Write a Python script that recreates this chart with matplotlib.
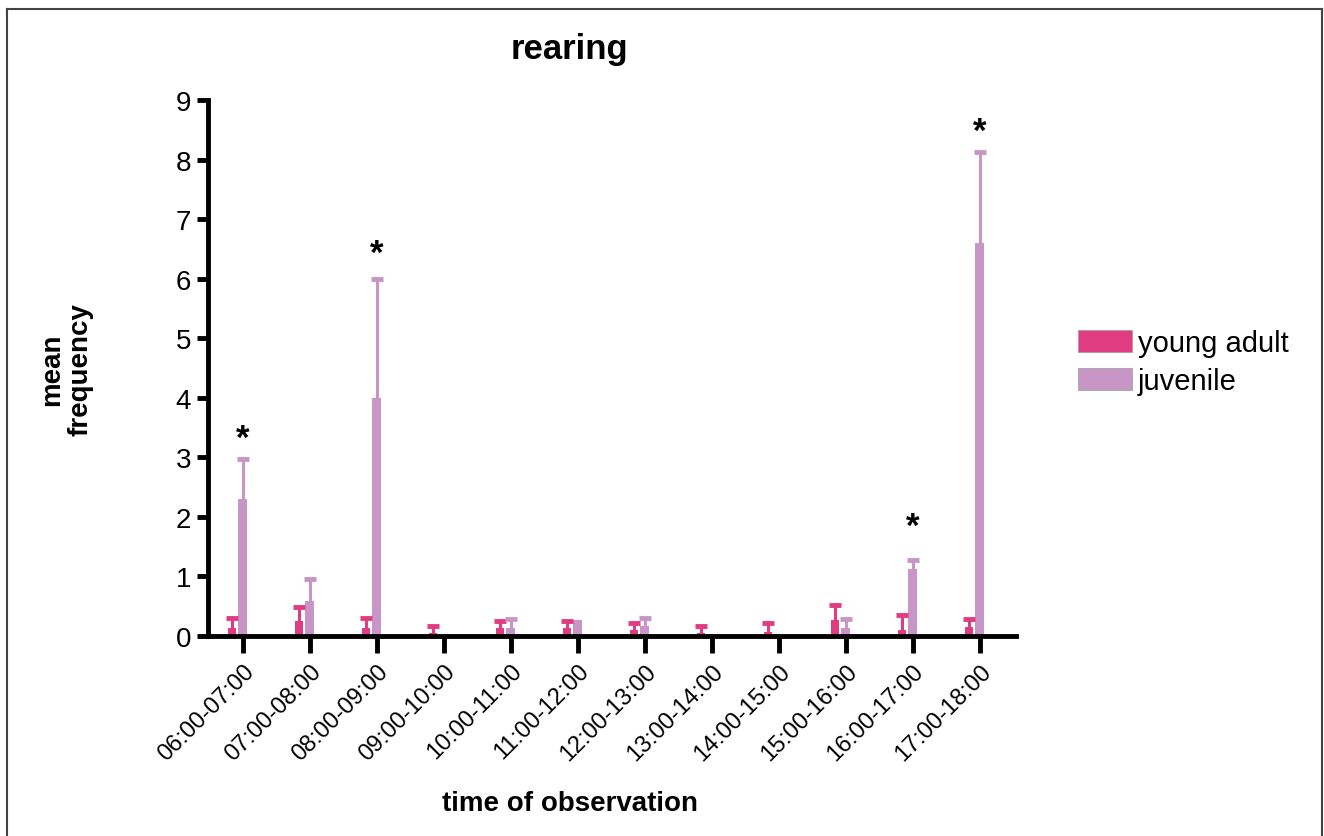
import matplotlib
matplotlib.use("Agg")
import matplotlib.pyplot as plt
import numpy as np
from matplotlib.lines import Line2D
from matplotlib.patches import Patch

plt.rcParams['font.family'] = ['Liberation Sans', 'DejaVu Sans']

categories = ["06:00-07:00", "07:00-08:00", "08:00-09:00", "09:00-10:00",
              "10:00-11:00", "11:00-12:00", "12:00-13:00", "13:00-14:00",
              "14:00-15:00", "15:00-16:00", "16:00-17:00", "17:00-18:00"]
young_adult = [0.14, 0.25, 0.14, 0.05, 0.14, 0.14, 0.10, 0.05, 0.07, 0.27, 0.10, 0.15]
young_adult_err = [0.17, 0.23, 0.16, 0.12, 0.11, 0.12, 0.12, 0.11, 0.15, 0.25, 0.25, 0.13]
juvenile = [2.30, 0.58, 4.00, 0.0, 0.14, 0.27, 0.17, 0.0, 0.0, 0.14, 1.12, 6.60]
juvenile_err = [0.67, 0.37, 2.00, 0.0, 0.15, 0.0, 0.13, 0.0, 0.0, 0.15, 0.15, 1.53]
star_heights = {0: 3.32, 2: 6.42, 10: 1.84, 11: 8.47}

c_ya = "#E03C82"
c_juv = "#C796C6"

fig = plt.figure(figsize=(13.24, 8.37), dpi=100)
ax = fig.add_axes([208/1324, 1-637/837, (1016-208)/1324, (637-101)/837])

x = np.arange(len(categories))
off_ya = -0.165
ax.bar(x + off_ya, young_adult, width=0.125, color=c_ya, zorder=2)
ax.bar(x, juvenile, width=0.13, color=c_juv, zorder=2)


def upper_err(xpos, vals, errs, color):
    xpos = np.asarray(xpos, float)
    vals = np.asarray(vals, float)
    errs = np.asarray(errs, float)
    m = errs > 0
    ax.vlines(xpos[m], vals[m], vals[m] + errs[m], colors=color, lw=2.2, zorder=3)
    ax.plot(xpos[m], vals[m] + errs[m], ls='none', marker='_', ms=9, mew=3.5,
            color=color, zorder=3)


upper_err(x + off_ya, young_adult, young_adult_err, c_ya)
upper_err(x, juvenile, juvenile_err, c_juv)

for i, h in star_heights.items():
    ax.text(x[i], h, "*", ha='center', va='center', fontsize=25, fontweight='bold')

ax.set_xlim(-0.52, 11.54)
ax.set_ylim(0, 9)
ax.set_yticks(range(0, 10))
ax.set_xticks(x)
ax.set_xticklabels(categories, rotation=45, ha='right', rotation_mode='anchor', fontsize=17)
ax.tick_params(axis='y', labelsize=20, width=3.5, length=8, pad=4)
ax.tick_params(axis='x', width=3.5, length=12, pad=5)
for s in ['top', 'right']:
    ax.spines[s].set_visible(False)
for s in ['left', 'bottom']:
    ax.spines[s].set_linewidth(3.5)

fig.text(569/1324, 1-50/837, "rearing", ha='center', va='center', fontsize=25, fontweight='bold')
fig.text(570/1324, 1-804/837, "time of observation", ha='center', va='center',
         fontsize=20, fontweight='bold')
fig.text(66/1324, 1-370/837, "mean\nfrequency", rotation=90, ha='center', va='center',
         fontsize=20, fontweight='bold', linespacing=1.1)

handles = [Patch(facecolor=c_ya, edgecolor='#999999', linewidth=0.5),
           Patch(facecolor=c_juv, edgecolor='#999999', linewidth=0.5)]
fig.legend(handles, ["young adult", "juvenile"], loc='center left',
           bbox_to_anchor=(1052/1324, 1-363/837), frameon=False, fontsize=21,
           handlelength=1.85, handleheight=0.8, handletextpad=0.2, labelspacing=0.35)

# outer frame
fr = dict(color='#444444', lw=1.5, transform=fig.transFigure)
fig.add_artist(Line2D([7/1324, 7/1324], [0, 1-10/837], **fr))
fig.add_artist(Line2D([7/1324, 1322/1324], [1-10/837, 1-10/837], **fr))
fig.add_artist(Line2D([1322/1324, 1322/1324], [0, 1-10/837], **fr))

fig.savefig("out.png", dpi=100)
